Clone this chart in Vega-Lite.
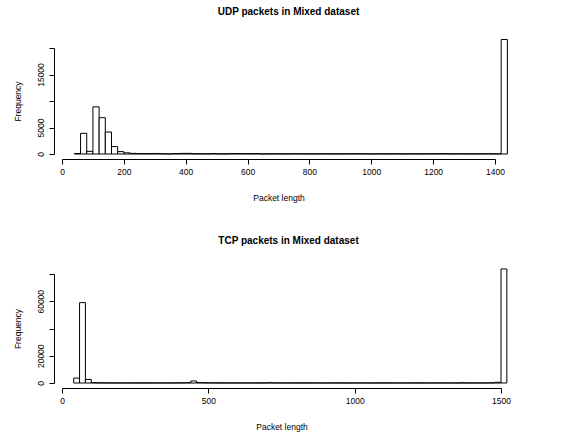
{
  "$schema": "https://vega.github.io/schema/vega-lite/v6.json",
  "background": "white",
  "padding": {"top": 7, "left": 13, "right": 5, "bottom": 5},
  "bounds": "flush",
  "spacing": 120,
  "config": {
    "font": "Liberation Sans",
    "view": {"stroke": null},
    "axis": {
      "grid": false,
      "domainColor": "black",
      "tickColor": "black",
      "labelColor": "black",
      "titleColor": "black",
      "labelFont": "Liberation Sans",
      "titleFont": "Liberation Sans",
      "labelFontSize": 8.5,
      "titleFontSize": 8.5,
      "titleFontWeight": "normal",
      "tickSize": 5,
      "domainWidth": 1,
      "tickWidth": 1,
      "labelFlush": false,
      "labelOverlap": false
    },
    "axisX": {"labelPadding": 3, "titlePadding": 18},
    "axisY": {"labelAngle": -90, "labelAlign": "center", "labelBaseline": "bottom", "labelPadding": 4, "titlePadding": 14},
    "title": {"fontSize": 10, "fontWeight": "bold", "color": "black", "font": "Liberation Sans", "frame": "group"}
  },
  "datasets": {
    "udp": [
      {"start": 40, "end": 60, "count": 100},
      {"start": 60, "end": 80, "count": 3900},
      {"start": 80, "end": 100, "count": 500},
      {"start": 100, "end": 120, "count": 8900},
      {"start": 120, "end": 140, "count": 6850},
      {"start": 140, "end": 160, "count": 4150},
      {"start": 160, "end": 180, "count": 1400},
      {"start": 180, "end": 200, "count": 450},
      {"start": 200, "end": 220, "count": 220},
      {"start": 220, "end": 240, "count": 120},
      {"start": 240, "end": 260, "count": 90},
      {"start": 260, "end": 280, "count": 70},
      {"start": 280, "end": 300, "count": 80},
      {"start": 300, "end": 320, "count": 100},
      {"start": 320, "end": 340, "count": 40},
      {"start": 340, "end": 360, "count": 30},
      {"start": 360, "end": 380, "count": 90},
      {"start": 380, "end": 400, "count": 110},
      {"start": 400, "end": 420, "count": 120},
      {"start": 420, "end": 440, "count": 60},
      {"start": 440, "end": 460, "count": 50},
      {"start": 460, "end": 480, "count": 40},
      {"start": 480, "end": 500, "count": 90},
      {"start": 500, "end": 520, "count": 30},
      {"start": 520, "end": 540, "count": 40},
      {"start": 540, "end": 560, "count": 80},
      {"start": 560, "end": 580, "count": 90},
      {"start": 580, "end": 600, "count": 70},
      {"start": 600, "end": 620, "count": 60},
      {"start": 620, "end": 640, "count": 80},
      {"start": 640, "end": 660, "count": 30},
      {"start": 660, "end": 680, "count": 40},
      {"start": 680, "end": 700, "count": 50},
      {"start": 700, "end": 720, "count": 40},
      {"start": 720, "end": 740, "count": 30},
      {"start": 740, "end": 760, "count": 60},
      {"start": 760, "end": 780, "count": 50},
      {"start": 780, "end": 800, "count": 40},
      {"start": 800, "end": 820, "count": 30},
      {"start": 820, "end": 840, "count": 40},
      {"start": 840, "end": 860, "count": 50},
      {"start": 860, "end": 880, "count": 40},
      {"start": 880, "end": 900, "count": 30},
      {"start": 900, "end": 920, "count": 40},
      {"start": 920, "end": 940, "count": 50},
      {"start": 940, "end": 960, "count": 60},
      {"start": 960, "end": 980, "count": 50},
      {"start": 980, "end": 1000, "count": 30},
      {"start": 1000, "end": 1020, "count": 30},
      {"start": 1020, "end": 1040, "count": 40},
      {"start": 1040, "end": 1060, "count": 30},
      {"start": 1060, "end": 1080, "count": 50},
      {"start": 1080, "end": 1100, "count": 40},
      {"start": 1100, "end": 1120, "count": 30},
      {"start": 1120, "end": 1140, "count": 40},
      {"start": 1140, "end": 1160, "count": 30},
      {"start": 1160, "end": 1180, "count": 50},
      {"start": 1180, "end": 1200, "count": 40},
      {"start": 1200, "end": 1220, "count": 60},
      {"start": 1220, "end": 1240, "count": 70},
      {"start": 1240, "end": 1260, "count": 40},
      {"start": 1260, "end": 1280, "count": 30},
      {"start": 1280, "end": 1300, "count": 50},
      {"start": 1300, "end": 1320, "count": 40},
      {"start": 1320, "end": 1340, "count": 30},
      {"start": 1340, "end": 1360, "count": 40},
      {"start": 1360, "end": 1380, "count": 50},
      {"start": 1380, "end": 1400, "count": 40},
      {"start": 1400, "end": 1420, "count": 30},
      {"start": 1420, "end": 1440, "count": 21600}
    ],
    "tcp": [
      {"start": 40, "end": 60, "count": 3600},
      {"start": 60, "end": 80, "count": 59000},
      {"start": 80, "end": 100, "count": 2600},
      {"start": 100, "end": 120, "count": 250},
      {"start": 120, "end": 140, "count": 150},
      {"start": 140, "end": 160, "count": 100},
      {"start": 160, "end": 180, "count": 80},
      {"start": 180, "end": 200, "count": 60},
      {"start": 200, "end": 220, "count": 70},
      {"start": 220, "end": 240, "count": 50},
      {"start": 240, "end": 260, "count": 60},
      {"start": 260, "end": 280, "count": 50},
      {"start": 280, "end": 300, "count": 40},
      {"start": 300, "end": 320, "count": 60},
      {"start": 320, "end": 340, "count": 50},
      {"start": 340, "end": 360, "count": 40},
      {"start": 360, "end": 380, "count": 50},
      {"start": 380, "end": 400, "count": 80},
      {"start": 400, "end": 420, "count": 150},
      {"start": 420, "end": 440, "count": 200},
      {"start": 440, "end": 460, "count": 1500},
      {"start": 460, "end": 480, "count": 300},
      {"start": 480, "end": 500, "count": 150},
      {"start": 500, "end": 520, "count": 120},
      {"start": 520, "end": 540, "count": 100},
      {"start": 540, "end": 560, "count": 90},
      {"start": 560, "end": 580, "count": 80},
      {"start": 580, "end": 600, "count": 70},
      {"start": 600, "end": 620, "count": 60},
      {"start": 620, "end": 640, "count": 50},
      {"start": 640, "end": 660, "count": 60},
      {"start": 660, "end": 680, "count": 50},
      {"start": 680, "end": 700, "count": 70},
      {"start": 700, "end": 720, "count": 200},
      {"start": 720, "end": 740, "count": 80},
      {"start": 740, "end": 760, "count": 60},
      {"start": 760, "end": 780, "count": 50},
      {"start": 780, "end": 800, "count": 40},
      {"start": 800, "end": 820, "count": 50},
      {"start": 820, "end": 840, "count": 40},
      {"start": 840, "end": 860, "count": 50},
      {"start": 860, "end": 880, "count": 40},
      {"start": 880, "end": 900, "count": 30},
      {"start": 900, "end": 920, "count": 40},
      {"start": 920, "end": 940, "count": 50},
      {"start": 940, "end": 960, "count": 40},
      {"start": 960, "end": 980, "count": 30},
      {"start": 980, "end": 1000, "count": 40},
      {"start": 1000, "end": 1020, "count": 50},
      {"start": 1020, "end": 1040, "count": 40},
      {"start": 1040, "end": 1060, "count": 30},
      {"start": 1060, "end": 1080, "count": 40},
      {"start": 1080, "end": 1100, "count": 50},
      {"start": 1100, "end": 1120, "count": 40},
      {"start": 1120, "end": 1140, "count": 30},
      {"start": 1140, "end": 1160, "count": 40},
      {"start": 1160, "end": 1180, "count": 30},
      {"start": 1180, "end": 1200, "count": 40},
      {"start": 1200, "end": 1220, "count": 50},
      {"start": 1220, "end": 1240, "count": 40},
      {"start": 1240, "end": 1260, "count": 30},
      {"start": 1260, "end": 1280, "count": 40},
      {"start": 1280, "end": 1300, "count": 50},
      {"start": 1300, "end": 1320, "count": 40},
      {"start": 1320, "end": 1340, "count": 30},
      {"start": 1340, "end": 1360, "count": 40},
      {"start": 1360, "end": 1380, "count": 150},
      {"start": 1380, "end": 1400, "count": 60},
      {"start": 1400, "end": 1420, "count": 50},
      {"start": 1420, "end": 1440, "count": 60},
      {"start": 1440, "end": 1460, "count": 80},
      {"start": 1460, "end": 1480, "count": 120},
      {"start": 1480, "end": 1500, "count": 500},
      {"start": 1500, "end": 1520, "count": 83700}
    ]
  },
  "vconcat": [
    {
      "title": {"text": "UDP packets in Mixed dataset", "dx": 10, "offset": 22},
      "width": 433,
      "height": 106,
      "data": {"name": "udp"},
      "mark": {"type": "bar", "fill": "white", "stroke": "black", "strokeWidth": 1},
      "encoding": {
        "x": {
          "field": "start",
          "type": "quantitative",
          "scale": {"domain": [0, 1400], "nice": false, "zero": false},
          "axis": {"values": [0, 200, 400, 600, 800, 1000, 1200, 1400], "format": "d", "title": "Packet length", "offset": 5}
        },
        "x2": {"field": "end"},
        "y": {
          "field": "count",
          "type": "quantitative",
          "scale": {"domain": [0, 20000], "nice": false},
          "axis": {
            "values": [0, 5000, 10000, 15000, 20000],
            "format": "d",
            "labelExpr": "datum.value == 10000 || datum.value == 20000 ? '' : datum.label",
            "title": "Frequency",
            "offset": 8
          }
        },
        "y2": {"datum": 0}
      }
    },
    {
      "title": {"text": "TCP packets in Mixed dataset", "dx": 7, "offset": 22},
      "width": 439,
      "height": 109,
      "data": {"name": "tcp"},
      "mark": {"type": "bar", "fill": "white", "stroke": "black", "strokeWidth": 1},
      "encoding": {
        "x": {
          "field": "start",
          "type": "quantitative",
          "scale": {"domain": [0, 1500], "nice": false, "zero": false},
          "axis": {"values": [0, 500, 1000, 1500], "format": "d", "title": "Packet length", "offset": 5}
        },
        "x2": {"field": "end"},
        "y": {
          "field": "count",
          "type": "quantitative",
          "scale": {"domain": [0, 80000], "nice": false},
          "axis": {
            "values": [0, 20000, 40000, 60000, 80000],
            "format": "d",
            "labelExpr": "datum.value == 40000 || datum.value == 80000 ? '' : datum.label",
            "title": "Frequency",
            "offset": 8
          }
        },
        "y2": {"datum": 0}
      }
    }
  ]
}
